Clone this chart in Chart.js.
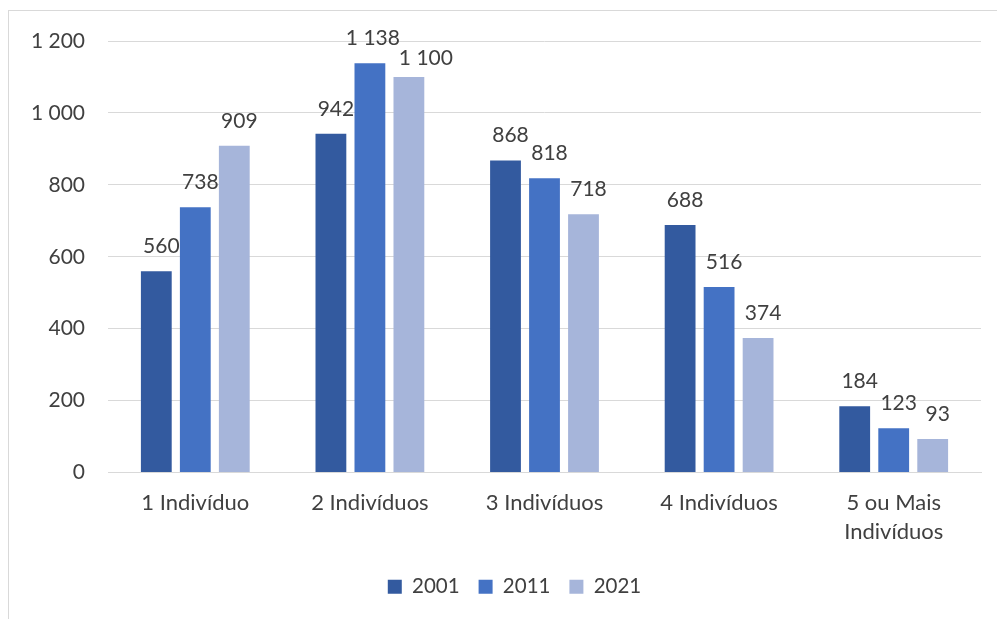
<!DOCTYPE html>
<html>
<head>
<meta charset="utf-8">
<script src="https://cdn.jsdelivr.net/npm/chart.js@4.4.0/dist/chart.umd.min.js"></script>
<style>
  html, body { margin: 0; padding: 0; background: #fff; }
  #wrap { position: relative; width: 997px; height: 619px; overflow: hidden; }
  #frame { position: absolute; left: 8px; top: 10px; width: 1100px; height: 800px;
           border-left: 1.5px solid #d9d9d9; border-top: 1.5px solid #d9d9d9; box-sizing: border-box; }
  canvas { position: absolute; left: 0; top: 0; }
</style>
</head>
<body>
<div id="wrap">
  <div id="frame"></div>
  <canvas id="c" width="997" height="619"></canvas>
</div>
<script>
const categories = ["1 Indivíduo", "2 Indivíduos", "3 Indivíduos", "4 Indivíduos", ["5 ou Mais", "Indivíduos"]];
const seriesNames = ["2001", "2011", "2021"];
const values2001 = [560, 942, 868, 688, 184];
const values2011 = [738, 1138, 818, 516, 123];
const values2021 = [909, 1100, 718, 374, 93];
const yTicks = [0, 200, 400, 600, 800, 1000, 1200];
const colors = ["#335A9F", "#4472C4", "#A6B5DA"];

const FONT = "Lato, 'Liberation Sans', sans-serif";
const TEXT = "#404040";
const fmt = v => String(v).replace(/\B(?=(\d{3})+(?!\d))/g, " ");

// label nudges (dataset index, point index) -> [dx, dy] in px, to avoid overlaps like the original
const labelNudge = { "1,1": [-2, 0], "2,1": [12, 6] };

const dataLabels = {
  id: "dataLabels",
  afterDatasetsDraw(chart) {
    const ctx = chart.ctx;
    ctx.save();
    ctx.font = "21px " + FONT;
    ctx.fillStyle = TEXT;
    ctx.textAlign = "center";
    ctx.textBaseline = "alphabetic";
    chart.data.datasets.forEach((ds, i) => {
      const meta = chart.getDatasetMeta(i);
      meta.data.forEach((bar, j) => {
        const n = labelNudge[i + "," + j] || [0, 0];
        ctx.fillText(fmt(ds.data[j]), bar.x + 5 + n[0], bar.y - 18 + n[1]);
      });
    });
    ctx.restore();
  }
};

const legendShift = {
  id: "legendShift",
  afterLayout(chart) {
    if (chart.legend) { chart.legend.left += 24; chart.legend.right += 24; }
  }
};

const seriesValues = [values2001, values2011, values2021];
new Chart(document.getElementById("c"), {
  type: "bar",
  data: {
    labels: categories,
    datasets: seriesNames.map((n, i) => ({
      label: n,
      data: seriesValues[i],
      backgroundColor: colors[i],
      borderWidth: 0,
      barPercentage: 0.79,
      categoryPercentage: 0.67
    }))
  },
  options: {
    responsive: false,
    animation: false,
    devicePixelRatio: 1,
    layout: { padding: { top: 41, right: 16, bottom: 12, left: 0 } },
    plugins: {
      legend: {
        position: "bottom",
        labels: {
          font: { family: FONT, size: 20.5 },
          color: TEXT,
          boxWidth: 14,
          boxHeight: 14,
          padding: 19
        }
      },
      tooltip: { enabled: false }
    },
    scales: {
      x: {
        grid: { display: false, drawTicks: false },
        border: { display: true, color: "#d9d9d9", width: 1 },
        ticks: {
          font: { family: FONT, size: 22, lineHeight: 1.33 },
          color: TEXT,
          padding: 16,
          maxRotation: 0,
          autoSkip: false
        },
        afterFit(scale) { scale.height = 85; }
      },
      y: {
        min: 0,
        max: 1200,
        afterBuildTicks(scale) { scale.ticks = yTicks.map(v => ({ value: v })); },
        grid: { color: "#d9d9d9", lineWidth: 1, drawTicks: false },
        border: { display: false },
        ticks: {
          font: { family: FONT, size: 21 },
          color: TEXT,
          padding: 23,
          callback: v => fmt(v)
        },
        afterFit(scale) { scale.width = 108; }
      }
    }
  },
  plugins: [dataLabels, legendShift]
});
</script>
</body>
</html>
